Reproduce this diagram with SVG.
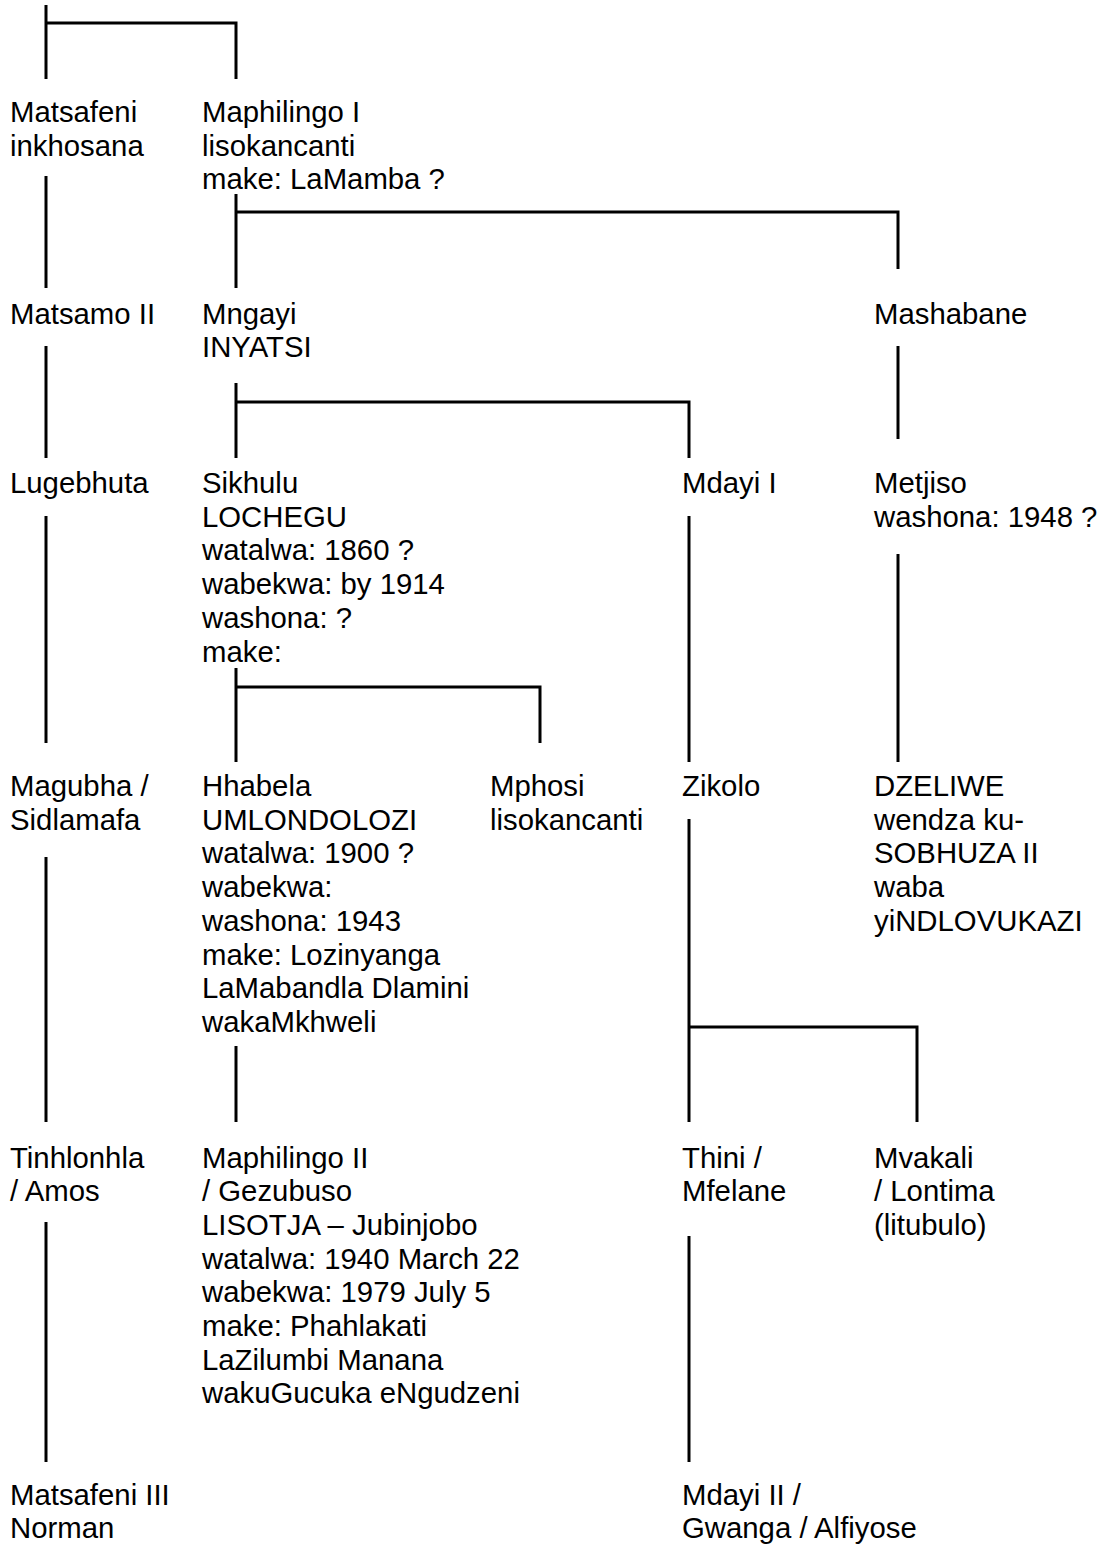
<svg xmlns="http://www.w3.org/2000/svg" width="1103" height="1544" viewBox="0 0 1103 1544">
<style>
text{font-family:"Liberation Sans",Arial,sans-serif;font-size:29.33px;fill:#000}
.c{fill:none;stroke:#000;stroke-width:3;stroke-linecap:butt;stroke-linejoin:miter}
</style>
<rect width="1103" height="1544" fill="#fff"/>
<g id="connectors" class="c">
<path d="M46,5V79M46,23H236V79"/>
<path d="M46,176V288"/>
<path d="M236,194V288M236,212H898V269"/>
<path d="M46,346V458"/>
<path d="M898,346V439"/>
<path d="M236,383V458M236,402H689V458"/>
<path d="M46,516V743"/>
<path d="M236,668V762M236,687H540V743"/>
<path d="M689,516V762"/>
<path d="M898,554V762"/>
<path d="M46,857V1122"/>
<path d="M236,1046V1122"/>
<path d="M689,819V1122M689,1027H917V1122"/>
<path d="M46,1222V1462"/>
<path d="M689,1236V1462"/>
</g>
<g id="matsafeni"><text x="10" y="122"><tspan x="10">Matsafeni</tspan><tspan x="10" dy="33.7">inkhosana</tspan></text></g>
<g id="maphilingo1"><text x="202" y="122"><tspan x="202">Maphilingo I</tspan><tspan x="202" dy="33.7">lisokancanti</tspan><tspan x="202" dy="33.7">make: LaMamba ?</tspan></text></g>
<g id="matsamo2"><text x="10" y="323.5">Matsamo II</text></g>
<g id="mngayi"><text x="202" y="323.5"><tspan x="202">Mngayi</tspan><tspan x="202" dy="33.7">INYATSI</tspan></text></g>
<g id="mashabane"><text x="874" y="323.5">Mashabane</text></g>
<g id="lugebhuta"><text x="10" y="493">Lugebhuta</text></g>
<g id="sikhulu"><text x="202" y="493"><tspan x="202">Sikhulu</tspan><tspan x="202" dy="33.7">LOCHEGU</tspan><tspan x="202" dy="33.7">watalwa: 1860 ?</tspan><tspan x="202" dy="33.7">wabekwa: by 1914</tspan><tspan x="202" dy="33.7">washona: ?</tspan><tspan x="202" dy="33.7">make:</tspan></text></g>
<g id="mdayi1"><text x="682" y="493">Mdayi I</text></g>
<g id="metjiso"><text x="874" y="493"><tspan x="874">Metjiso</tspan><tspan x="874" dy="33.7">washona: 1948 ?</tspan></text></g>
<g id="magubha"><text x="10" y="796"><tspan x="10">Magubha /</tspan><tspan x="10" dy="33.7">Sidlamafa</tspan></text></g>
<g id="hhabela"><text x="202" y="796"><tspan x="202">Hhabela</tspan><tspan x="202" dy="33.7">UMLONDOLOZI</tspan><tspan x="202" dy="33.7">watalwa: 1900 ?</tspan><tspan x="202" dy="33.7">wabekwa:</tspan><tspan x="202" dy="33.7">washona: 1943</tspan><tspan x="202" dy="33.7">make: Lozinyanga</tspan><tspan x="202" dy="33.7">LaMabandla Dlamini</tspan><tspan x="202" dy="33.7">wakaMkhweli</tspan></text></g>
<g id="mphosi"><text x="490" y="796"><tspan x="490">Mphosi</tspan><tspan x="490" dy="33.7">lisokancanti</tspan></text></g>
<g id="zikolo"><text x="682" y="796">Zikolo</text></g>
<g id="dzeliwe"><text x="874" y="796"><tspan x="874">DZELIWE</tspan><tspan x="874" dy="33.7">wendza ku-</tspan><tspan x="874" dy="33.7">SOBHUZA II</tspan><tspan x="874" dy="33.7">waba</tspan><tspan x="874" dy="33.7">yiNDLOVUKAZI</tspan></text></g>
<g id="tinhlonhla"><text x="10" y="1167.5"><tspan x="10">Tinhlonhla</tspan><tspan x="10" dy="33.7">/ Amos</tspan></text></g>
<g id="maphilingo2"><text x="202" y="1167.5"><tspan x="202">Maphilingo II</tspan><tspan x="202" dy="33.7">/ Gezubuso</tspan><tspan x="202" dy="33.7">LISOTJA – Jubinjobo</tspan><tspan x="202" dy="33.7">watalwa: 1940 March 22</tspan><tspan x="202" dy="33.7">wabekwa: 1979 July 5</tspan><tspan x="202" dy="33.7">make: Phahlakati</tspan><tspan x="202" dy="33.7">LaZilumbi Manana</tspan><tspan x="202" dy="33.7">wakuGucuka eNgudzeni</tspan></text></g>
<g id="thini"><text x="682" y="1167.5"><tspan x="682">Thini /</tspan><tspan x="682" dy="33.7">Mfelane</tspan></text></g>
<g id="mvakali"><text x="874" y="1167.5"><tspan x="874">Mvakali</tspan><tspan x="874" dy="33.7">/ Lontima</tspan><tspan x="874" dy="33.7">(litubulo)</tspan></text></g>
<g id="matsafeni3"><text x="10" y="1504.5"><tspan x="10">Matsafeni III</tspan><tspan x="10" dy="33.7">Norman</tspan></text></g>
<g id="mdayi2"><text x="682" y="1504.5"><tspan x="682">Mdayi II /</tspan><tspan x="682" dy="33.7">Gwanga / Alfiyose</tspan></text></g>
</svg>
